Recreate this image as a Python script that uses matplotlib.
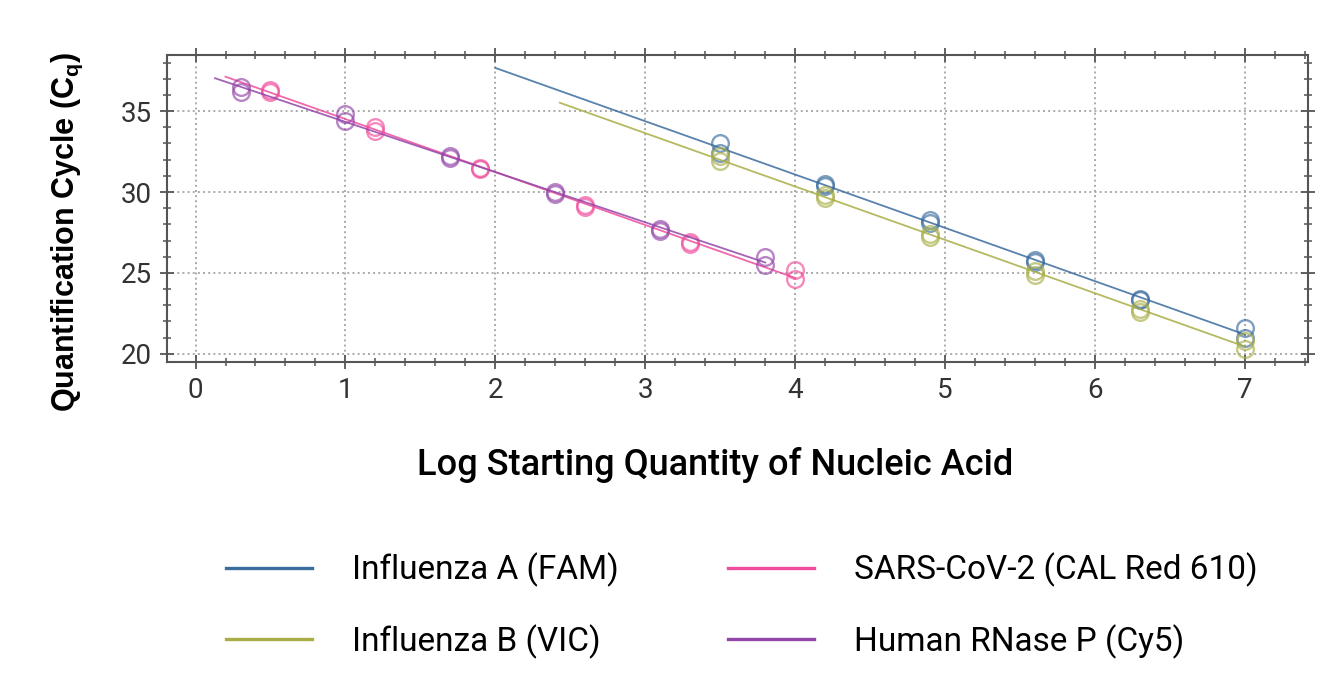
import numpy as np
from matplotlib import pyplot as plt
from matplotlib.lines import Line2D
from matplotlib.ticker import MultipleLocator

plt.rcParams['font.family'] = ['Roboto', 'DejaVu Sans']

# standard curves, two replicates per dilution
flu_a_x = [3.5, 3.5, 4.2, 4.2, 4.9, 4.9, 5.6, 5.6, 6.3, 6.3, 7.0, 7.0]
flu_a_y = [33.0, 32.4, 30.5, 30.4, 28.3, 28.1, 25.8, 25.7, 23.4, 23.3, 21.6, 21.0]
flu_b_x = [3.5, 3.5, 4.2, 4.2, 4.9, 4.9, 5.6, 5.6, 6.3, 6.3, 7.0, 7.0]
flu_b_y = [32.2, 31.9, 29.8, 29.6, 27.4, 27.2, 25.1, 24.9, 22.8, 22.6, 20.8, 20.3]
sars_x = [0.5, 0.5, 1.2, 1.2, 1.9, 1.9, 2.6, 2.6, 3.3, 3.3, 4.0, 4.0]
sars_y = [36.3, 36.2, 34.0, 33.8, 31.5, 31.4, 29.2, 29.1, 26.9, 26.8, 25.2, 24.6]
rnase_x = [0.3, 0.3, 1.0, 1.0, 1.7, 1.7, 2.4, 2.4, 3.1, 3.1, 3.8, 3.8]
rnase_y = [36.5, 36.2, 34.8, 34.4, 32.2, 32.1, 30.0, 29.9, 27.7, 27.6, 26.0, 25.5]

# x extent of each fitted line
flu_a_range = [2.0, 7.0]
flu_b_range = [2.43, 7.0]
sars_range = [0.2, 4.0]
rnase_range = [0.13, 3.8]

series = [
    ('Influenza A (FAM)', flu_a_x, flu_a_y, flu_a_range, '#3b6c9e'),
    ('Influenza B (VIC)', flu_b_x, flu_b_y, flu_b_range, '#a8ae45'),
    ('SARS-CoV-2 (CAL Red 610)', sars_x, sars_y, sars_range, '#f04c9c'),
    ('Human RNase P (Cy5)', rnase_x, rnase_y, rnase_range, '#9346a8'),
]

fig = plt.figure(figsize=(13.32, 7), dpi=100)
ax = fig.add_axes([0.1254, 0.483, 0.8566, 0.438])

handles = []
for name, xs, ys, rng, col in series:
    k, b = np.polyfit(xs, ys, 1)
    lx = np.array(rng)
    ax.plot(lx, k * lx + b, color=col, lw=1.3, alpha=0.85)
    ax.plot(xs, ys, 'o', mfc='none', mec=col, ms=12, mew=1.7, alpha=0.65)
    handles.append(Line2D([], [], color=col, lw=2.4))

ax.set_xlim(-0.19, 7.42)
ax.set_ylim(19.5, 38.45)
ax.xaxis.set_major_locator(MultipleLocator(1))
ax.xaxis.set_minor_locator(MultipleLocator(0.2))
ax.yaxis.set_major_locator(MultipleLocator(5))
ax.yaxis.set_minor_locator(MultipleLocator(1))
ax.grid(True, which='major', ls=':', color='#aaaaaa', lw=1.4)
ax.tick_params(which='major', direction='inout', length=10, width=1.3, colors='#555555',
               labelcolor='#333333', labelsize=20, top=True, right=True, pad=6)
ax.tick_params(which='minor', direction='inout', length=6, width=1.1, colors='#555555',
               top=True, right=True)
for s in ax.spines.values():
    s.set_color('#555555')
    s.set_linewidth(1.5)

ax.set_ylabel('Quantification Cycle (C$_\\mathregular{q}$)', fontsize=22, fontweight='bold',
              family=['Liberation Sans', 'DejaVu Sans'])
ax.yaxis.set_label_coords(-0.072, 0.423)
ax.set_xlabel('Log Starting Quantity of Nucleic Acid', fontsize=26, fontweight='medium')
ax.xaxis.set_label_coords(0.48, -0.278)

fig.legend(handles, [s[0] for s in series], ncol=2, loc='upper left',
           bbox_to_anchor=(0.147, 0.253), frameon=False, fontsize=24,
           handlelength=2.6, handletextpad=1.2, columnspacing=3.25, labelspacing=1.1)

fig.savefig('out.png', dpi=100)
